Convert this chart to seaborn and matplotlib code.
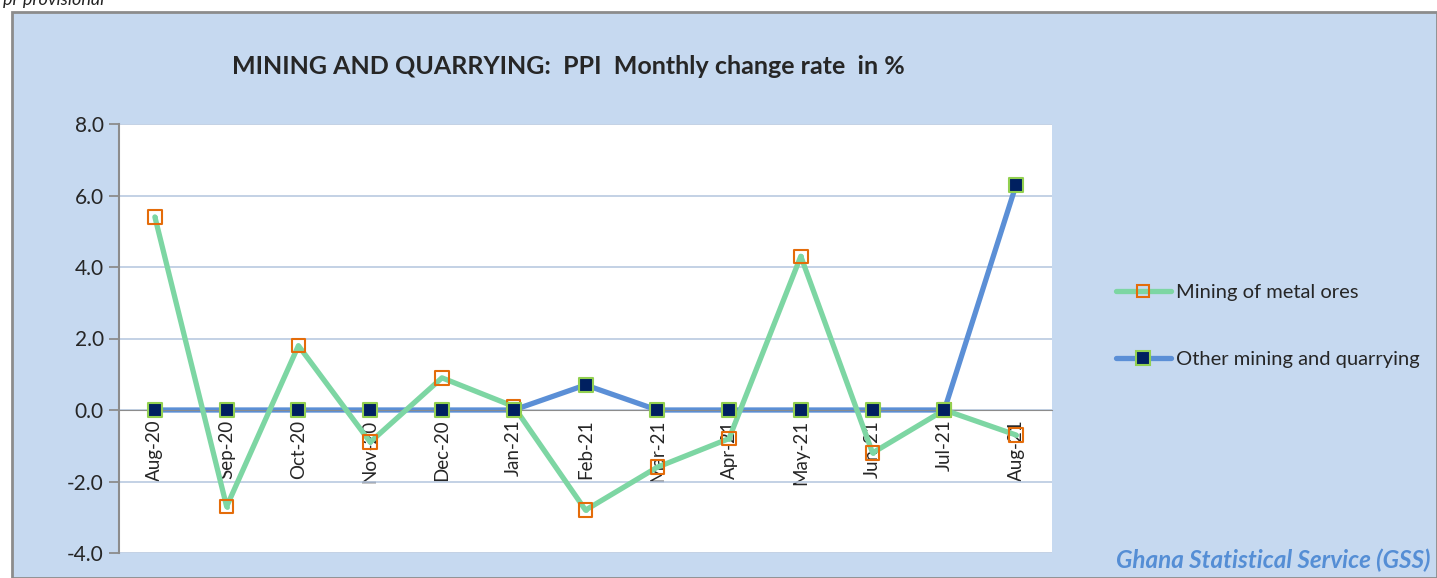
# import libraries
import pandas as pd
import matplotlib.pyplot as plt
import seaborn as sns
from matplotlib.patches import Rectangle
from matplotlib.lines import Line2D


# chart data
months = ["Aug-20", "Sep-20", "Oct-20", "Nov-20", "Dec-20", "Jan-21", "Feb-21",
          "Mar-21", "Apr-21", "May-21", "Jun-21", "Jul-21", "Aug-21"]
metal_ores = [5.4, -2.7, 1.8, -0.9, 0.9, 0.1, -2.8, -1.6, -0.8, 4.3, -1.2, 0.0, -0.7]
other_mining = [0.0, 0.0, 0.0, 0.0, 0.0, 0.0, 0.7, 0.0, 0.0, 0.0, 0.0, 0.0, 6.3]
y_ticks = [-4.0, -2.0, 0.0, 2.0, 4.0, 6.0, 8.0]

series_names = ["Mining of metal ores", "Other mining and quarrying"]

df = pd.DataFrame({"month": months, "metal": metal_ores, "other": other_mining})


# colours
green = "#7dd6a3"
orange = "#e46c0a"
blue = "#5b8fd6"
navy = "#002060"
lime = "#92d050"
panel = "#c6d9f0"


sns.set_style("white")
plt.rcParams["font.family"] = ["Lato", "DejaVu Sans"]

fig = plt.figure(figsize=(14.37, 5.78), dpi=100)

# light blue chart area with grey border
fig.patches.append(Rectangle((12 / 1437, 0), 1 - 12 / 1437, 1 - 12 / 578,
                             transform=fig.transFigure, facecolor=panel,
                             edgecolor="#8c8c8c", linewidth=2, zorder=-5))

fig.text(0.002, 1.0, "pr provisional", fontsize=13, style="italic",
         va="center", ha="left", color="#222222")

ax = fig.add_axes([119 / 1437, 1 - 553 / 578, (1052 - 119) / 1437, (553 - 124) / 578])
ax.set_zorder(1)
ax.set_facecolor("white")

# other mining and quarrying line (under)
sns.lineplot(data=df, x="month", y="other", ax=ax, color=blue, linewidth=3.8,
             sort=False, zorder=2)

# mining of metal ores line
sns.lineplot(data=df, x="month", y="metal", ax=ax, color=green, linewidth=3.8,
             sort=False, zorder=3)

# markers
sns.scatterplot(data=df, x="month", y="metal", ax=ax, marker="s", s=95,
                facecolor="none", edgecolor=orange, linewidth=1.5, zorder=4)
sns.scatterplot(data=df, x="month", y="metal", ax=ax, marker="o", s=12,
                color=green, linewidth=0, zorder=4)
sns.scatterplot(data=df, x="month", y="other", ax=ax, marker="s", s=110,
                color=navy, edgecolor=lime, linewidth=1.5, zorder=5)

ax.set_xlim(-0.5, len(months) - 0.5)
ax.set_ylim(y_ticks[0], y_ticks[-1])
ax.set_yticks(y_ticks)
ax.set_yticklabels([f"{v:.1f}" for v in y_ticks], fontsize=15)
ax.yaxis.grid(True, color="#b9c9e0", linewidth=1.2)
ax.set_axisbelow(True)

# x axis crosses at zero, ticks between categories
ax.spines["bottom"].set_position(("data", 0))
ax.spines["bottom"].set_color("#8c8c8c")
ax.spines["left"].set_color("#8c8c8c")
ax.spines["left"].set_linewidth(1.5)
ax.spines["top"].set_visible(False)
ax.spines["right"].set_visible(False)
ax.set_xticks(range(len(months)))
ax.set_xticklabels(months, rotation=90, fontsize=13.5)
ax.set_xticks([i + 0.5 for i in range(-1, len(months))], minor=True)
ax.tick_params(axis="x", which="major", length=0, pad=7)
ax.tick_params(axis="x", which="minor", length=6, color="#8c8c8c", direction="out")
ax.tick_params(axis="y", length=7, width=1.3, color="#8c8c8c", direction="out",
               left=True, pad=4)
ax.set_xlabel("")
ax.set_ylabel("")

# title
fig.text(568 / 1437, 1 - 66 / 578, "MINING AND QUARRYING:  PPI  Monthly change rate  in %",
         fontsize=18, fontweight="bold", ha="center", va="center")

# legend
handles = [
    Line2D([], [], color=green, linewidth=3.8, marker="s", markersize=9,
           markerfacecolor="none", markeredgecolor=orange, markeredgewidth=1.5),
    Line2D([], [], color=blue, linewidth=3.8, marker="s", markersize=10,
           markerfacecolor=navy, markeredgecolor=lime, markeredgewidth=1.5),
]
fig.legend(handles, series_names, loc="center left",
           bbox_to_anchor=(1098 / 1437, 1 - 326 / 578), frameon=False,
           fontsize=14.5, labelspacing=2.45, handlelength=2.7, handletextpad=0.25)

# source note
fig.text(1430 / 1437, 1 - 560 / 578, "Ghana Statistical Service (GSS)", fontsize=17.5,
         fontweight="bold", style="italic", color="#558ed5", ha="right", va="center")

plt.savefig("out.png", dpi=100)
